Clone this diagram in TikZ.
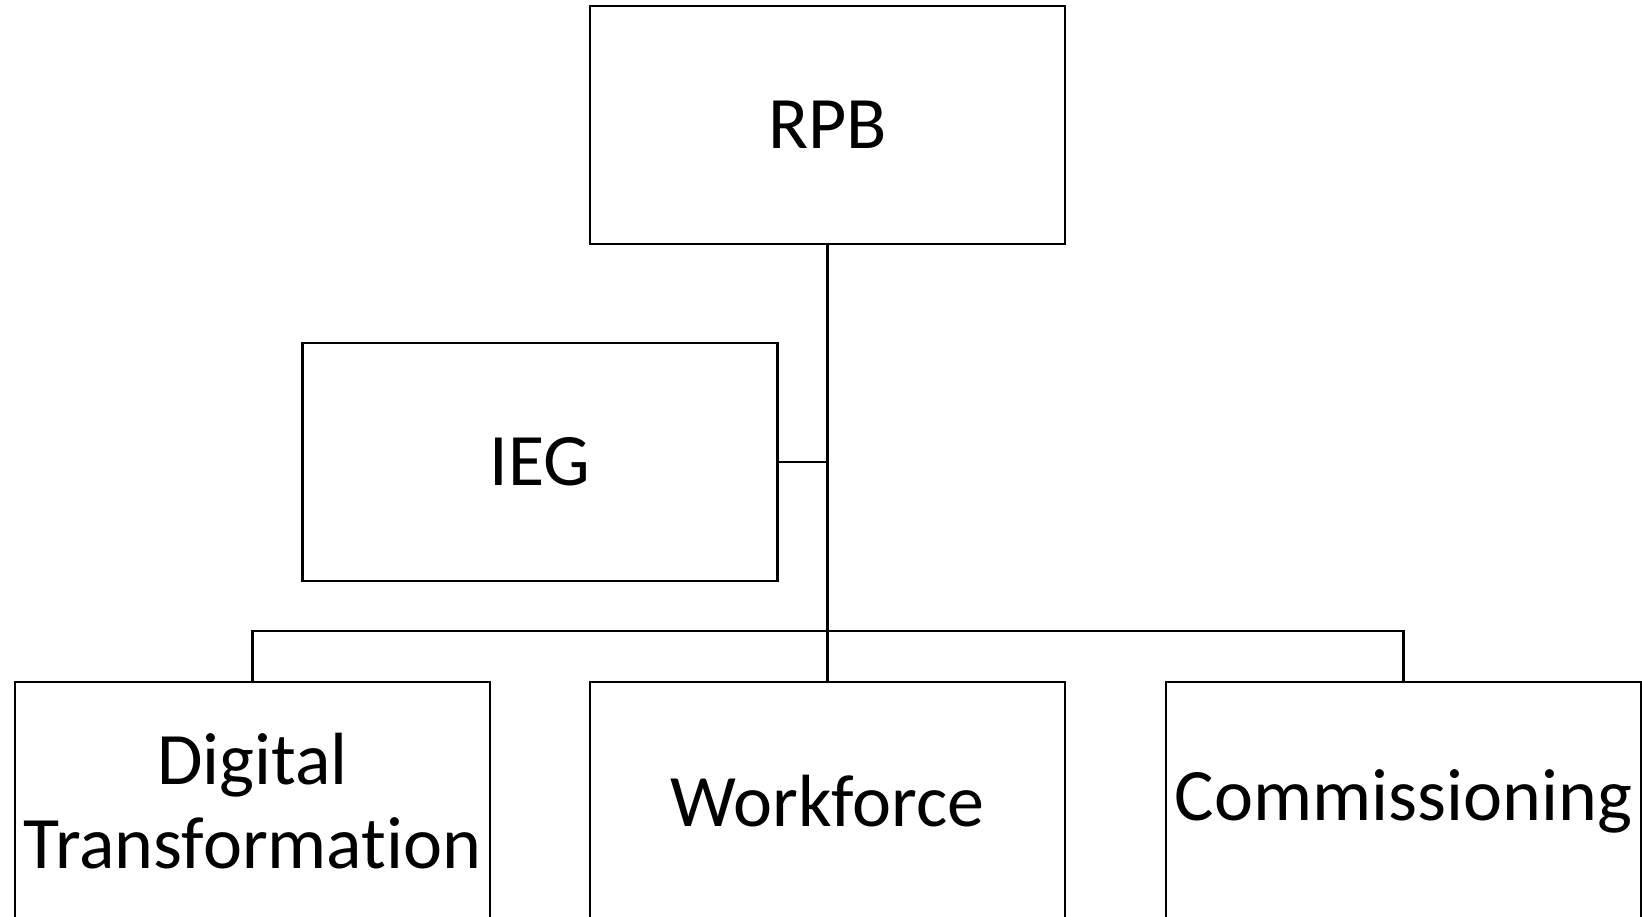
\documentclass[tikz,border=0pt]{standalone}
\usepackage{fontspec}
\setmainfont{Carlito}[Ligatures={NoCommon}]
\usepackage{tikz}
\usetikzlibrary{positioning,calc}

\begin{document}
\begin{tikzpicture}[
  x=1pt, y=-1pt,
  every node/.style={font=\fontsize{74}{84}\selectfont},
  unit/.style={draw, line width=2.6pt, minimum width=475pt, minimum height=238pt, inner sep=0pt, align=center},
  link/.style={line width=2.6pt}
]
\useasboundingbox (0,0) rectangle (1642,917);
\node[unit] (rpb) at (827.5,125) {RPB};
\node[unit] (ieg) at (540,462) {IEG};
\node[unit] (digital) at (252.5,801) {Digital\\Transformation};
\node[unit] (workforce) at (827.5,801) {Workforce};
\node[unit] (commissioning) at (1403.5,801) {Commissioning};

\coordinate (bus) at (827.5,631);
\draw[link] (rpb.south) -- (bus);
\draw[link] (ieg.east) -- (ieg.east -| rpb.south);
\draw[link] (digital.north) |- (bus) -| (commissioning.north);
\draw[link] (workforce.north) -- (bus);
\end{tikzpicture}
\end{document}
